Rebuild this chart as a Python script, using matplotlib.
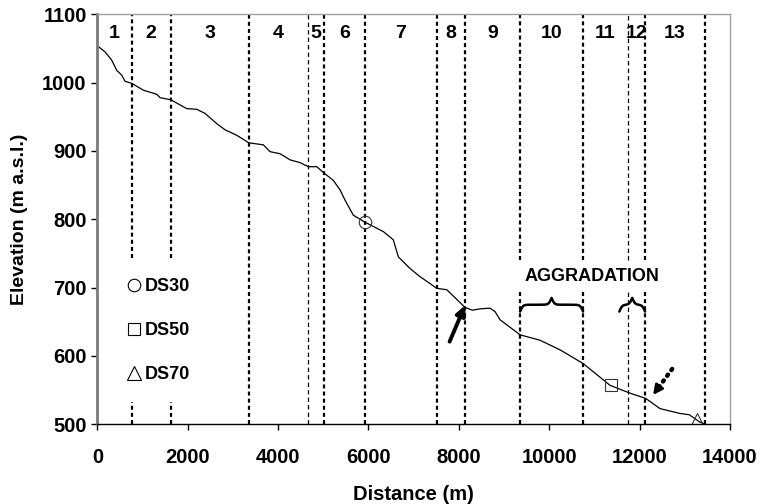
import numpy as np
import matplotlib
matplotlib.use('Agg')
import matplotlib.pyplot as plt
from matplotlib.lines import Line2D

# perfil longitudinal (distância [m], cota [m a.s.l.])
dist = [0, 170, 318, 429, 540, 613, 761, 1018, 1314, 1388, 1624, 1978, 2200,
        2383, 2642, 2826, 3085, 3350, 3673, 3822, 4043, 4264, 4486, 4669, 4855,
        5010, 5222, 5371, 5481, 5665, 5917, 6329, 6550, 6661, 6920, 7141, 7362,
        7510, 7732, 8137, 8300, 8469, 8690, 8800, 8911, 9354, 9796, 10239, 10748,
        11197, 11345, 11810, 12133, 12450, 12885, 13100, 13315, 13447]
elev = [1054, 1045, 1033, 1018, 1011, 1002, 999, 989, 983, 978, 975, 962, 961,
        955, 940, 931, 923, 912, 909, 899, 896, 887, 883, 877, 877,
        868, 857, 843, 828, 806, 796, 782, 770, 745, 728, 716, 706,
        699, 697, 671, 667, 669, 670, 665, 653, 631, 623, 609, 589,
        565, 557, 545, 538, 523, 516, 514, 504, 500]

# limites dos trechos 1..13
bounds = [761, 1624, 3350, 4669, 5010, 5917, 7517, 8137, 9354, 10748, 11737, 12120, 13447]
reach_labels = [str(i) for i in range(1, 14)]
thin_bounds = [4669, 11737]

# seções DS
ds_names = ['DS30', 'DS50', 'DS70']
ds_dist = [5917, 11360, 13262]
ds_elev = [796, 557, 507]
ds_markers = ['o', 's', '^']

# trechos em agradação
aggr_spans = [(9354, 10748), (11551, 12120)]

plt.rcParams['font.family'] = ['Liberation Sans', 'DejaVu Sans']
plt.rcParams['font.weight'] = 'bold'

fig = plt.figure(figsize=(7.61, 5.04), dpi=100)
ax = fig.add_axes([0.1279, 0.1581, 0.8314, 0.8135])

XMAX, YMIN, YMAX = 14000, 500, 1100

# linhas verticais dos trechos (com interrupções para legenda / texto)
gaps = {761: (533, 743), 1624: (533, 743),
        9354: (694, 740), 10748: (694, 740), 11737: (694, 740), 12120: (694, 740)}
for b in bounds:
    if b in thin_bounds:
        kw = dict(color='black', lw=0.9, ls=(0, (3.5, 2.5)))
    else:
        kw = dict(color='black', lw=1.6, ls=(0, (1.8, 1.4)))
    if b in gaps:
        lo, hi = gaps[b]
        ax.plot([b, b], [YMIN, lo], **kw)
        ax.plot([b, b], [hi, YMAX], **kw)
    else:
        ax.plot([b, b], [YMIN, YMAX], **kw)

# números dos trechos
edges = [0] + bounds
for i, lab in enumerate(reach_labels):
    xc = (edges[i] + edges[i + 1]) / 2
    ax.text(xc, 1072, lab, ha='center', va='center', fontsize=14, fontweight='bold')

# perfil
ax.plot(dist, elev, color='black', lw=0.9)

# seções
for x, y, m in zip(ds_dist, ds_elev, ds_markers):
    ax.plot(x, y, marker=m, ms=9 if m != '^' else 10, mfc='none', mec='#333333', mew=0.8, ls='none')

handles = [Line2D([], [], marker=m, ls='none', mfc='none', mec='black', mew=0.8,
                  ms=9 if m != '^' else 10) for m in ds_markers]
ax.legend(handles, ds_names, loc='upper left', bbox_to_anchor=(0.047, 0.357),
          frameon=False, handlelength=0.8, handletextpad=0.2,
          labelspacing=1.5, borderpad=0, borderaxespad=0,
          prop={'weight': 'bold', 'size': 13})

# chaves de agradação
def brace(x0, x1, base, amp, beta=0.032):
    xs = np.linspace(x0, x1, 301)
    xh = xs[:151]
    v = 1 / (1 + np.exp(-beta * (xh - xh[0]))) + 1 / (1 + np.exp(-beta * (xh - xh[-1])))
    v = np.concatenate((v, v[-2::-1]))
    ax.plot(xs, base + amp * v, color='black', lw=1.8, solid_capstyle='round')

for x0, x1 in aggr_spans:
    brace(x0, x1, 655, 20)
ax.text(10940, 716, 'AGGRADATION', ha='center', va='center', fontsize=13, fontweight='bold')

# setas
ax.annotate('', xy=(8137, 674), xytext=(7795, 621),
            arrowprops=dict(arrowstyle='-|>', lw=2.8, color='black', mutation_scale=14,
                            shrinkA=0, shrinkB=0))
ax.plot([12720, 12420], [581, 554], color='black', lw=3.2, ls=(0, (0.3, 1.3)),
        dash_capstyle='round')
ax.annotate('', xy=(12297, 543), xytext=(12420, 554),
            arrowprops=dict(arrowstyle='-|>', lw=2.0, color='black', mutation_scale=14,
                            shrinkA=0, shrinkB=0))

ax.set_xlim(0, XMAX)
ax.set_ylim(YMIN, YMAX)
ax.set_xticks(np.arange(0, 14001, 2000))
ax.set_yticks(np.arange(500, 1101, 100))
ax.tick_params(axis='both', labelsize=14.5, length=4.3, width=1, direction='out', color='black')
ax.tick_params(axis='x', pad=13)
ax.tick_params(axis='y', pad=3.4)
for lab in ax.get_xticklabels() + ax.get_yticklabels():
    lab.set_fontweight('bold')

ax.set_xlabel('Distance (m)', fontsize=14.5, fontweight='bold')
ax.set_ylabel('Elevation (m a.s.l.)', fontsize=14, fontweight='bold')
ax.xaxis.set_label_coords(0.5, -0.148)
ax.yaxis.set_label_coords(-0.11, 0.5)

ax.spines['left'].set_color('#7a7a7a')
ax.spines['left'].set_linewidth(2)
ax.spines['bottom'].set_color('black')
ax.spines['bottom'].set_linewidth(1)
for s in ['top', 'right']:
    ax.spines[s].set_color('#a0a0a0')
    ax.spines[s].set_linewidth(1)

fig.savefig('out.png', dpi=100)
